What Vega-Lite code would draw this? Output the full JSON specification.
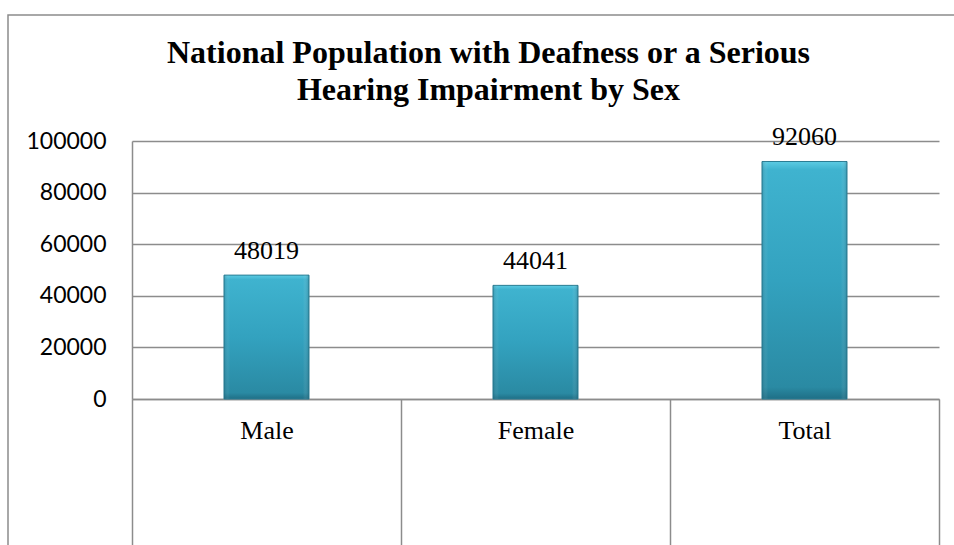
{
  "$schema": "https://vega.github.io/schema/vega-lite/v6.json",
  "autosize": {"type": "none"},
  "padding": {"left": 132, "top": 141, "right": 15, "bottom": 146},
  "width": 807,
  "height": 258,
  "background": "white",
  "title": {
    "text": ["National Population with Deafness or a Serious", "Hearing Impairment by Sex"],
    "font": "Liberation Serif",
    "fontSize": 32,
    "fontWeight": "bold",
    "color": "black",
    "anchor": "middle",
    "dx": -47,
    "offset": -93,
    "lineHeight": 37
  },
  "data": {
    "values": [
      {"sex": "Male", "count": 48019},
      {"sex": "Female", "count": 44041},
      {"sex": "Total", "count": 92060}
    ]
  },
  "encoding": {
    "x": {
      "field": "sex",
      "type": "nominal",
      "sort": null,
      "scale": {"paddingInner": 0, "paddingOuter": 0},
      "axis": {
        "title": null,
        "labelAngle": 0,
        "labelFont": "Liberation Serif",
        "labelFontSize": 26,
        "labelColor": "black",
        "labelBaseline": "alphabetic",
        "labelPadding": -111,
        "domain": true,
        "domainColor": "#8c8c8c",
        "domainWidth": 1.5,
        "ticks": true,
        "tickBand": "extent",
        "tickSize": 150,
        "tickColor": "#8c8c8c",
        "tickWidth": 1.5,
        "grid": false
      }
    },
    "y": {
      "field": "count",
      "type": "quantitative",
      "scale": {"domain": [0, 100000], "nice": false},
      "axis": {
        "title": null,
        "values": [0, 20000, 40000, 60000, 80000, 100000],
        "format": "d",
        "labelFont": "Lato",
        "labelFontSize": 23,
        "labelColor": "black",
        "labelPadding": 26,
        "ticks": false,
        "domain": true,
        "domainColor": "#8c8c8c",
        "domainWidth": 1.5,
        "grid": true,
        "gridColor": "#8c8c8c",
        "gridWidth": 1.5
      }
    }
  },
  "layer": [
    {
      "data": {"values": [{"frame": "chart area"}]},
      "mark": {
        "type": "rect",
        "x": -124,
        "y": -126,
        "x2": 840,
        "y2": 420,
        "fill": null,
        "stroke": "#8c8c8c",
        "strokeWidth": 1.5
      },
      "encoding": {"x": null, "y": null}
    },
    {
      "mark": {
        "type": "bar",
        "width": {"band": 0.316},
        "stroke": "#2a7c93",
        "strokeWidth": 1,
        "color": {
          "gradient": "linear",
          "x1": 0, "y1": 0, "x2": 0, "y2": 1,
          "stops": [
            {"offset": 0, "color": "#5ccbe3"},
            {"offset": 0.035, "color": "#3fb3cf"},
            {"offset": 0.5, "color": "#33a2bf"},
            {"offset": 0.95, "color": "#2a8aa3"},
            {"offset": 1, "color": "#1f6f86"}
          ]
        }
      }
    },
    {
      "mark": {
        "type": "bar",
        "width": {"band": 0.316},
        "color": {
          "gradient": "linear",
          "x1": 0, "y1": 0, "x2": 1, "y2": 0,
          "stops": [
            {"offset": 0, "color": "rgba(20,80,100,0.25)"},
            {"offset": 0.07, "color": "rgba(255,255,255,0)"},
            {"offset": 0.93, "color": "rgba(255,255,255,0)"},
            {"offset": 1, "color": "rgba(20,80,100,0.3)"}
          ]
        }
      }
    },
    {
      "mark": {
        "type": "text",
        "font": "Liberation Serif",
        "fontSize": 26,
        "color": "black",
        "baseline": "alphabetic",
        "dy": -16
      },
      "encoding": {
        "text": {"field": "count", "type": "quantitative", "format": "d"}
      }
    }
  ],
  "config": {
    "view": {"stroke": null}
  }
}
